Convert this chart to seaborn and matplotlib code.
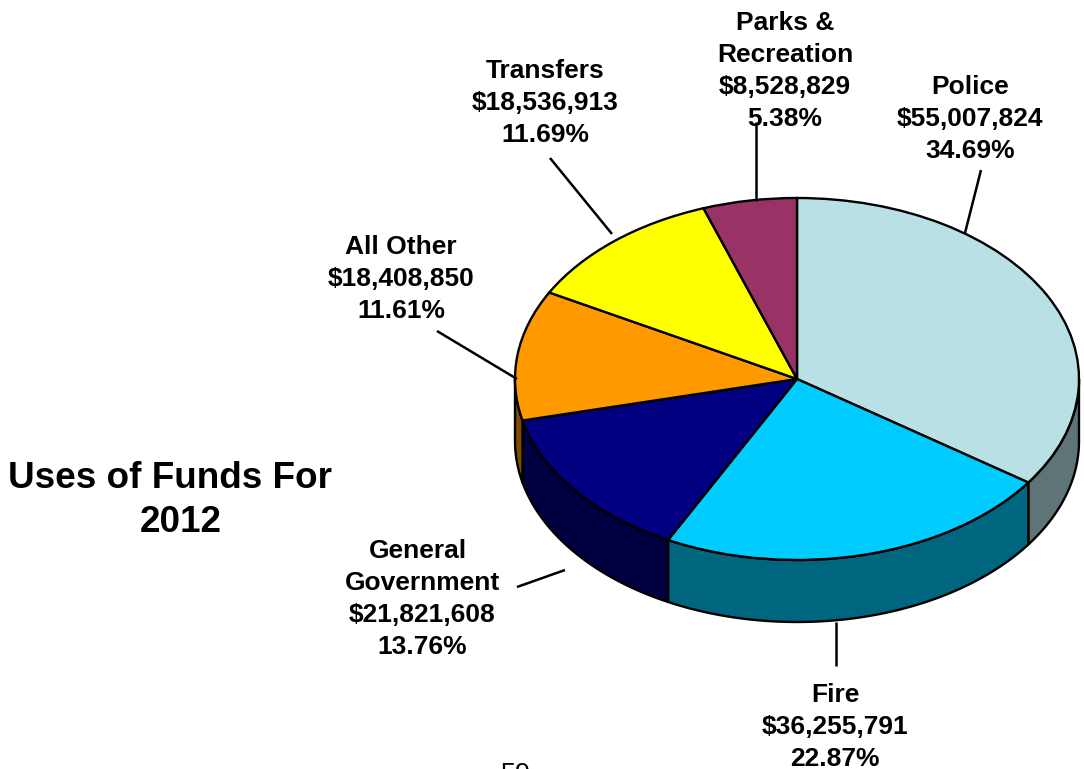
#!/usr/bin/env python3
import numpy as np
import matplotlib
matplotlib.use("Agg")
import matplotlib.pyplot as plt
import seaborn as sns

names = ["Police", "Fire", "General\nGovernment", "All Other", "Transfers", "Parks &\nRecreation"]
amounts = [55007824, 36255791, 21821608, 18408850, 18536913, 8528829]
pcts = ["34.69%", "22.87%", "13.76%", "11.61%", "11.69%", "5.38%"]
top_colors = ["#B9E0E4", "#00CCFF", "#000080", "#FF9900", "#FFFF00", "#993366"]

label_x = [970, 835, 422, 401, 545, 785]
label_y = [87, 695, 551, 247, 71, 23]
# reference has this line off centre
line_nudge = {"General": -4}
leaders = [((981, 170), (965, 233)), ((836, 622), (836, 666)), ((517, 587), (565, 570)),
           ((437, 331), (517, 379)), ((550, 158), (612, 234)), ((756, 122), (756, 201))]

W, H = 1084, 769
CX, CY, RX, RY, DEPTH = 797, 379, 282, 181, 62

sns.set_theme(style="white")
plt.rcParams["font.family"] = ["Liberation Sans", "DejaVu Sans"]

fig = plt.figure(figsize=(W / 100, H / 100), dpi=100)
ax = fig.add_axes([0, 0, 1, 1])
palette = sns.color_palette(top_colors)
side_colors = [tuple(np.array(c) * 0.5) for c in palette]
side_colors[0] = "#5F7477"

# side walls, only the front half of the ellipse shows
d = DEPTH / RY
edges = np.concatenate([[0], np.cumsum(amounts) / np.sum(amounts)]) * 2 * np.pi
for i in range(len(amounts)):
    a, b = max(edges[i], np.pi / 2), min(edges[i + 1], 3 * np.pi / 2)
    if a >= b:
        continue
    t = np.linspace(a, b, 80)
    xs = np.concatenate([np.sin(t), np.sin(t[::-1])])
    ys = np.concatenate([np.cos(t), np.cos(t[::-1]) - d])
    ax.fill(xs, ys, facecolor=side_colors[i], edgecolor="black", lw=1.7, joinstyle="round")

# top of the pie, squashed to an ellipse by the axes limits
ax.pie(amounts, colors=palette, startangle=90, counterclock=False, radius=1,
       wedgeprops=dict(edgecolor="black", linewidth=1.7))
ax.set_aspect("auto")
ax.set_xlim(-CX / RX, (W - CX) / RX)
ax.set_ylim((CY - H) / RY, CY / RY)
ax.axis("off")

# pixel overlay for labels
ov = fig.add_axes([0, 0, 1, 1], facecolor="none")
ov.set_xlim(0, W)
ov.set_ylim(H, 0)
ov.axis("off")

for (p0, p1) in leaders:
    ov.plot([p0[0], p1[0]], [p0[1], p1[1]], color="black", lw=1.8, solid_capstyle="butt")

for i, name in enumerate(names):
    lines = name.split("\n") + ["${:,}".format(amounts[i]), pcts[i]]
    for j, line in enumerate(lines):
        ov.text(label_x[i] + line_nudge.get(line, 0), label_y[i] + 32 * j, line,
                ha="center", va="center", fontsize=19, fontweight="bold", color="black")

ov.text(170.5, 478, "Uses of Funds For", ha="center", va="center", fontsize=26.6, fontweight="bold", color="black")
ov.text(181, 522, "2012", ha="center", va="center", fontsize=26.6, fontweight="bold", color="black")
ov.text(516, 782, "59", ha="center", va="baseline", fontsize=19.5, color="black")

fig.savefig("out.png", dpi=100, facecolor="white")
